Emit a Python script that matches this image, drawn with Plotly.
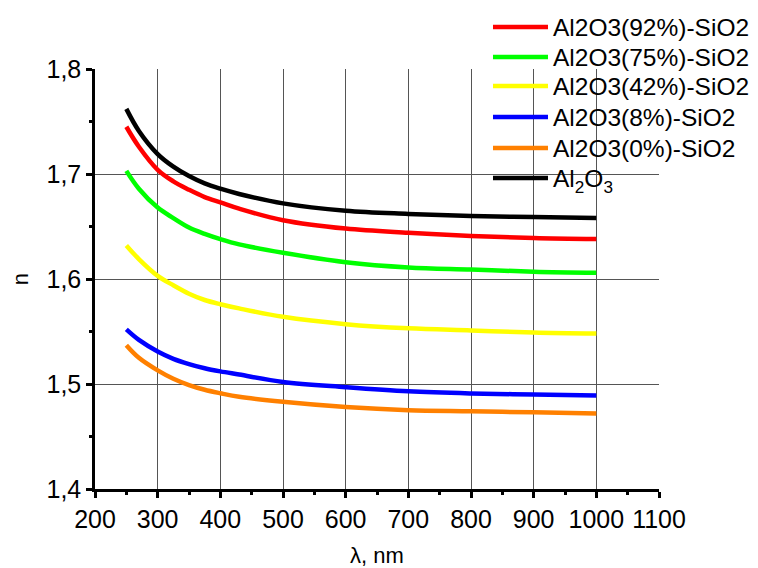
import plotly.graph_objects as go

wavelength = [250, 270, 300, 325, 350, 375, 400, 430, 500, 600, 700, 800, 900, 1000]

n_al2o3 = [1.762, 1.741, 1.719, 1.707, 1.698, 1.691, 1.686, 1.681, 1.672, 1.665, 1.662, 1.660, 1.659, 1.658]
n_92 = [1.745, 1.726, 1.704, 1.693, 1.685, 1.678, 1.673, 1.667, 1.656, 1.648, 1.644, 1.641, 1.639, 1.638]
n_75 = [1.703, 1.686, 1.668, 1.658, 1.649, 1.643, 1.638, 1.633, 1.625, 1.616, 1.611, 1.609, 1.607, 1.606]
n_42 = [1.632, 1.619, 1.603, 1.594, 1.586, 1.580, 1.576, 1.572, 1.564, 1.557, 1.553, 1.551, 1.549, 1.548]
n_8 = [1.552, 1.542, 1.531, 1.524, 1.519, 1.515, 1.512, 1.509, 1.502, 1.497, 1.493, 1.491, 1.490, 1.489]
n_0 = [1.537, 1.525, 1.513, 1.505, 1.499, 1.4945, 1.4912, 1.4878, 1.483, 1.478, 1.475, 1.474, 1.473, 1.472]

series_names = [
    "Al2O3(92%)-SiO2",
    "Al2O3(75%)-SiO2",
    "Al2O3(42%)-SiO2",
    "Al2O3(8%)-SiO2",
    "Al2O3(0%)-SiO2",
    "Al<sub>2</sub>O<sub>3</sub>",
]
series_values = [n_92, n_75, n_42, n_8, n_0, n_al2o3]
series_colors = ["#FF0000", "#00FF00", "#FFFF00", "#0000FF", "#FF8000", "#000000"]

x_ticks = [200, 300, 400, 500, 600, 700, 800, 900, 1000, 1100]
x_grid = [300, 400, 500, 600, 700, 800, 900, 1000]
y_grid = [1.5, 1.6, 1.7]

FONT = "Liberation Sans, Arial, sans-serif"

# figure geometry (page body adds an 8px offset)
W, H = 750, 560
ML, MR, MT, MB = 87, 99, 61, 79
PLOT_H = H - MT - MB

# legend row centres (figure pixels)
legend_rows = [19, 49, 78, 109, 140, 170]

fig = go.Figure()
legend_layouts = {}
for i, (name, vals, col) in enumerate(zip(series_names, series_values, series_colors)):
    lname = "legend" if i == 0 else f"legend{i + 1}"
    fig.add_trace(go.Scatter(
        x=wavelength, y=vals, mode="lines", name=name,
        line=dict(color=col, width=4.5, shape="spline", smoothing=1.0),
        legend=lname,
    ))
    legend_layouts[lname] = dict(
        x=0.6968, y=1 + (MT - legend_rows[i]) / PLOT_H,
        xanchor="left", yanchor="middle",
        bgcolor="rgba(0,0,0,0)", borderwidth=0,
        font=dict(family=FONT, size=24.5, color="black"),
        itemwidth=55,
    )

fig.update_layout(
    width=W, height=H,
    margin=dict(l=ML, r=MR, t=MT, b=MB, autoexpand=False),
    paper_bgcolor="white", plot_bgcolor="white",
    separators=",.",
    font=dict(family=FONT, size=25, color="black"),
    showlegend=True,
    xaxis=dict(
        range=[200, 1100], tickvals=x_ticks,
        showgrid=False, zeroline=False,
        showline=True, linecolor="black", linewidth=2.5,
        ticks="outside", ticklen=6, tickwidth=2.5, tickcolor="black",
        minor=dict(ticks="outside", ticklen=3, tickwidth=2.5, tickcolor="black", dtick=50, showgrid=False),
        title=dict(text="λ, nm", font=dict(size=22), standoff=22),
    ),
    yaxis=dict(
        range=[1.4, 1.8], dtick=0.1, tick0=1.4, tickformat=".1f",
        showgrid=False, zeroline=False,
        showline=True, linecolor="black", linewidth=2.5,
        ticks="outside", ticklen=6, tickwidth=2.5, tickcolor="black",
        minor=dict(ticks="outside", ticklen=3, tickwidth=2.5, tickcolor="black", dtick=0.05, showgrid=False),
        title=dict(text="n", font=dict(size=22), standoff=19),
    ),
    xaxis2=dict(
        range=[200, 1100], overlaying="x", anchor="y", side="bottom",
        tickvals=x_grid, showticklabels=False, ticks="",
        showgrid=True, gridcolor="#555555", gridwidth=1, zeroline=False, showline=False,
    ),
    yaxis2=dict(
        range=[1.4, 1.8], overlaying="y", anchor="x", side="left",
        tickvals=y_grid, showticklabels=False, ticks="",
        showgrid=True, gridcolor="#555555", gridwidth=1, zeroline=False, showline=False,
    ),
    **legend_layouts,
)

# invisible trace to activate overlay grid axes
fig.add_trace(go.Scatter(x=[200], y=[1.4], xaxis="x2", yaxis="y2", mode="markers",
                         marker=dict(opacity=0), showlegend=False, hoverinfo="skip"))

fig.write_html("out.html")
